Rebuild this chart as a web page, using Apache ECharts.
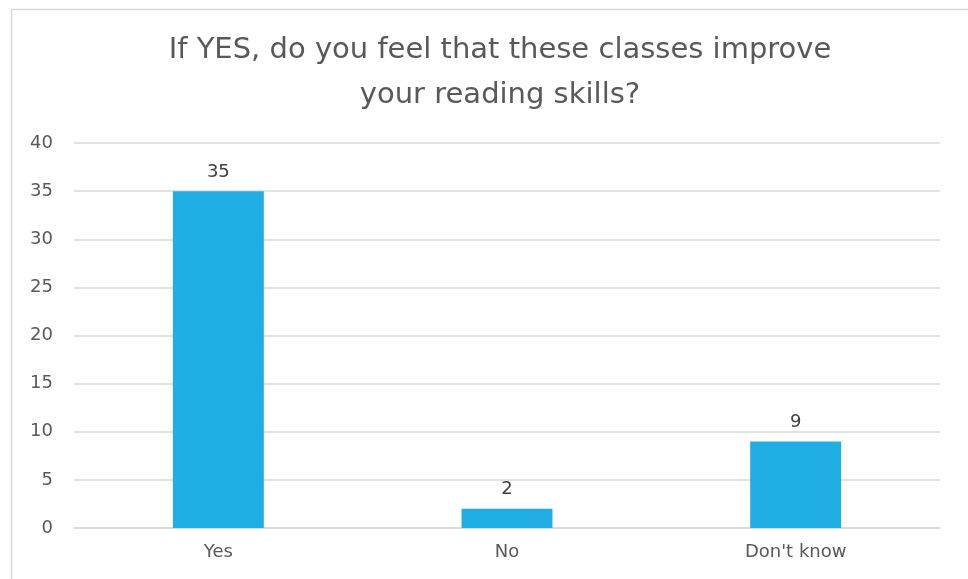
<!DOCTYPE html>
<html><head><meta charset="utf-8">
<script src="https://cdn.jsdelivr.net/npm/echarts@6/dist/echarts.min.js"></script>
<style>html,body{margin:0;padding:0;background:#fff}#c{width:968px;height:579px}</style>
</head><body><div id="c"></div>
<script>
const categories = ["Yes", "No", "Don't know"];
const values = [35, 2, 9];
const titleText = "If YES, do you feel that these classes improve\nyour reading skills?";
const FONT = "'DejaVu Sans', sans-serif";
const chart = echarts.init(document.getElementById('c'));
chart.setOption({
  animation: false,
  backgroundColor: '#fff',
  graphic: [{type:'rect', left:9, top:7, shape:{width:1000, height:620}, style:{fill:'none', stroke:'#d9d9d9', lineWidth:1.5}, silent:true}],
  title: {text: titleText, left: 495, top: 23, textAlign: 'center',
    textStyle:{fontFamily: FONT, fontWeight:'normal', fontSize:29, color:'#595959', lineHeight:45}},
  grid: {left: 74, right: 28, top: 143, bottom: 51, containLabel:false},
  xAxis: {type:'category', data: categories,
    axisLine:{lineStyle:{color:'#d9d9d9', width:1.5}}, axisTick:{show:false},
    axisLabel:{fontFamily:FONT, fontSize:18, color:'#595959', margin:15}},
  yAxis: {type:'value', min:0, max:40, interval:5,
    axisLine:{show:false}, axisTick:{show:false},
    splitLine:{lineStyle:{color:'#d9d9d9', width:1.5}},
    axisLabel:{fontFamily:FONT, fontSize:18, color:'#595959', margin:21}},
  series: [{type:'bar', data: values, barWidth:'31.5%',
    itemStyle:{color:'#1fade4'},
    label:{show:true, position:'top', distance:10, fontFamily:FONT, fontSize:18, color:'#404040'}}]
});
</script></body></html>
